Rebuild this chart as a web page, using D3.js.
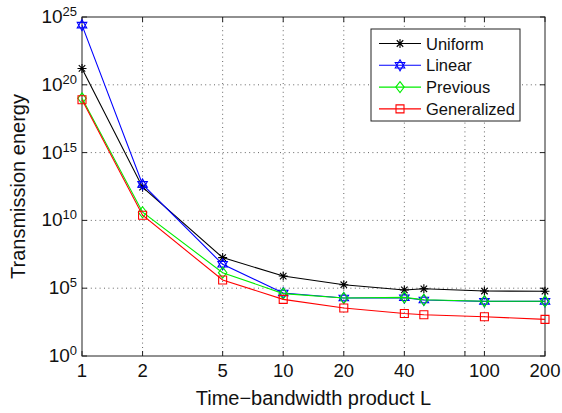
<!DOCTYPE html>
<html>
<head>
<meta charset="utf-8">
<script src="https://cdn.jsdelivr.net/npm/d3@7"></script>
<style>
  body { margin: 0; background: #fff; }
  svg { display: block; font-family: "Liberation Sans", Arial, Helvetica, sans-serif; }
</style>
</head>
<body>
<svg id="chart"></svg>
<script>
// data
const L = [1, 2, 5, 10, 20, 40, 50, 100, 200];
const uniform = [1.6e21, 2.8e12, 1.8e7, 7.9e5, 1.8e5, 7.4e4, 9.1e4, 6.2e4, 6.0e4];
const linear = [2.5e24, 4.5e12, 5.8e6, 4.4e4, 1.9e4, 2.0e4, 1.35e4, 1.07e4, 1.07e4];
const previous = [1.0e19, 4.0e10, 1.4e6, 4.0e4, 1.9e4, 2.1e4, 1.4e4, 1.1e4, 1.1e4];
const generalized = [7.9e18, 2.4e10, 4.0e5, 1.5e4, 3.5e3, 1.35e3, 1.1e3, 790, 500];

const xTicks = [1, 2, 5, 10, 20, 40, 80, 100, 200];
const xTickLabels = ["1", "2", "5", "10", "20", "40", "", "100", "200"];
const yExponents = [0, 5, 10, 15, 20, 25];

const seriesNames = ["Uniform", "Linear", "Previous", "Generalized"];
const seriesColors = ["#000000", "#0000ff", "#00ee00", "#ff0000"];
const seriesMarkers = ["asterisk", "hexagram", "diamond", "square"];
const seriesValues = [uniform, linear, previous, generalized];

// Define the dimensions
const w = 562, h = 413;
const pLeft = 82, pRight = 545, pTop = 17, pBottom = 356;

const svg = d3.select("#chart").attr("width", w).attr("height", h);

const x = d3.scaleLog().domain([1, 200]).range([pLeft, pRight]);
const y = d3.scaleLog().domain([1, 1e25]).range([pBottom, pTop]);

// grid
const grid = svg.append("g")
  .attr("stroke", "#555")
  .attr("stroke-width", 0.9)
  .attr("stroke-dasharray", "1,3.4");

grid.selectAll("line.vx")
  .data(xTicks.filter(d => d > 1 && d < 200))
  .enter().append("line")
  .attr("x1", d => x(d)).attr("x2", d => x(d))
  .attr("y1", pTop).attr("y2", pBottom);

grid.selectAll("line.hy")
  .data(yExponents.filter(e => e > 0 && e < 25))
  .enter().append("line")
  .attr("x1", pLeft).attr("x2", pRight)
  .attr("y1", e => y(Math.pow(10, e))).attr("y2", e => y(Math.pow(10, e)));

// tick marks, inside, on all four sides
const tk = svg.append("g").attr("stroke", "#222").attr("stroke-width", 1);
xTicks.forEach(d => {
  tk.append("line").attr("x1", x(d)).attr("x2", x(d)).attr("y1", pBottom).attr("y2", pBottom - 5);
  tk.append("line").attr("x1", x(d)).attr("x2", x(d)).attr("y1", pTop).attr("y2", pTop + 5);
});
yExponents.forEach(e => {
  const yy = y(Math.pow(10, e));
  tk.append("line").attr("x1", pLeft).attr("x2", pLeft + 5).attr("y1", yy).attr("y2", yy);
  tk.append("line").attr("x1", pRight).attr("x2", pRight - 5).attr("y1", yy).attr("y2", yy);
});

// box
svg.append("rect")
  .attr("x", pLeft).attr("y", pTop)
  .attr("width", pRight - pLeft).attr("height", pBottom - pTop)
  .attr("fill", "none").attr("stroke", "#222").attr("stroke-width", 1);

// tick labels
svg.append("g").selectAll("text")
  .data(xTicks)
  .enter().append("text")
  .attr("x", d => x(d))
  .attr("y", 377)
  .attr("text-anchor", "middle")
  .attr("font-size", "18.5px")
  .attr("fill", "#111")
  .text((d, i) => xTickLabels[i]);

const yl = svg.append("g").selectAll("text")
  .data(yExponents)
  .enter().append("text")
  .attr("x", 77)
  .attr("y", e => y(Math.pow(10, e)) + 6)
  .attr("text-anchor", "end")
  .attr("fill", "#111");
yl.append("tspan").attr("font-size", "19px").text("10");
yl.append("tspan").attr("font-size", "13px").attr("dy", -7).text(e => e);

// axis titles
svg.append("text")
  .attr("x", (pLeft + pRight) / 2)
  .attr("y", 405)
  .attr("text-anchor", "middle")
  .attr("font-size", "20px")
  .attr("fill", "#111")
  .text("Time\u2212bandwidth product L");

svg.append("text")
  .attr("transform", `translate(25,${(pTop + pBottom) / 2}) rotate(-90)`)
  .attr("text-anchor", "middle")
  .attr("font-size", "20px")
  .attr("fill", "#111")
  .text("Transmission energy");

// markers
function markerPath(type) {
  if (type === "asterisk") {
    const r = 4.5, q = r * 0.72;
    return `M${-r},0L${r},0M0,${-r}L0,${r}M${-q},${-q}L${q},${q}M${-q},${q}L${q},${-q}`;
  }
  if (type === "hexagram") {
    const r = 5.5;
    const tri = a => d3.range(3).map(k => {
      const t = a + k * 2 * Math.PI / 3;
      return [r * Math.sin(t), -r * Math.cos(t)];
    });
    const t1 = tri(0), t2 = tri(Math.PI);
    return "M" + t1.join("L") + "Z" + "M" + t2.join("L") + "Z";
  }
  if (type === "diamond") {
    return "M0,-5.5L4.2,0L0,5.5L-4.2,0Z";
  }
  return "M-4,-4L4,-4L4,4L-4,4Z";
}

const line = d3.line()
  .x((d, i) => x(L[i]))
  .y(d => y(d));

const series = svg.append("g").selectAll("g")
  .data(seriesValues)
  .enter().append("g");

series.append("path")
  .attr("d", d => line(d))
  .attr("fill", "none")
  .attr("stroke", (d, i) => seriesColors[i])
  .attr("stroke-width", 1.1);

series.each(function (vals, si) {
  d3.select(this).selectAll("path.mk")
    .data(vals)
    .enter().append("path")
    .attr("class", "mk")
    .attr("transform", (d, i) => `translate(${x(L[i])},${y(d)})`)
    .attr("d", markerPath(seriesMarkers[si]))
    .attr("fill", "none")
    .attr("stroke", seriesColors[si])
    .attr("stroke-width", 1.1);
});

// legend
const legend = svg.append("g");
legend.append("rect")
  .attr("x", 371).attr("y", 29)
  .attr("width", 149).attr("height", 92)
  .attr("fill", "#fff").attr("stroke", "#222").attr("stroke-width", 1);

const legendItem = legend.selectAll("g")
  .data(seriesNames)
  .enter().append("g")
  .attr("transform", (d, i) => `translate(0,${43.5 + i * 21.8})`);

legendItem.append("line")
  .attr("x1", 379).attr("x2", 421)
  .attr("stroke", (d, i) => seriesColors[i])
  .attr("stroke-width", 1.1);

legendItem.append("path")
  .attr("transform", "translate(400,0)")
  .attr("d", (d, i) => markerPath(seriesMarkers[i]))
  .attr("fill", "none")
  .attr("stroke", (d, i) => seriesColors[i])
  .attr("stroke-width", 1.1);

legendItem.append("text")
  .attr("x", 426)
  .attr("y", 6)
  .attr("font-size", "16.5px")
  .attr("fill", "#111")
  .text(d => d);
</script>
</body>
</html>
